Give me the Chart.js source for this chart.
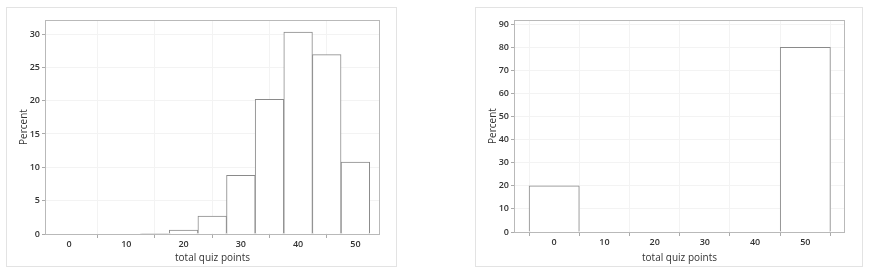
<!DOCTYPE html>
<html>
<head>
<meta charset="utf-8">
<script src="https://cdn.jsdelivr.net/npm/chart.js@4.4.0/dist/chart.umd.min.js"></script>
<style>
    body { margin: 0; background: #fff; width: 873px; height: 274px; position: relative; overflow: hidden; }
    .panel { position: absolute; top: 7px; height: 260px; border: 1px solid #e3e3e3; box-sizing: border-box; background: #fff; }
    #panel-left { left: 6px; width: 391px; }
    #panel-right { left: 475px; width: 388px; }
</style>
</head>
<body>
<div class="panel" id="panel-left"><canvas id="chart-left"></canvas></div>
<div class="panel" id="panel-right"><canvas id="chart-right"></canvas></div>
<script>
// left histogram: bin midpoints (width 5) and percent
const leftBins = [0, 5, 10, 15, 20, 25, 30, 35, 40, 45, 50];
const leftPercent = [0, 0, 0, 0.1, 0.6, 2.7, 8.8, 20.2, 30.3, 26.9, 10.8];

// right histogram: bin midpoints (width 10) and percent
const rightBins = [0, 10, 20, 30, 40, 50];
const rightPercent = [20, 0, 0, 0, 0, 80];

const xTitle = 'total quiz points';
const yTitle = 'Percent';

// draws the grey box round the plot area
const framePlugin = {
    id: 'frame',
    afterDatasetsDraw(chart) {
        const { ctx, chartArea: a } = chart;
        ctx.save();
        ctx.strokeStyle = '#b9b9b9';
        ctx.lineWidth = 1;
        ctx.strokeRect(a.left + 0.5, a.top + 0.5, a.right - a.left - 1, a.bottom - a.top);
        ctx.restore();
    }
};

function makeHistogram(canvasId, bins, values, opts) {
    const ctx = document.getElementById(canvasId).getContext('2d');
    return new Chart(ctx, {
        type: 'bar',
        data: {
            datasets: [{
                data: bins.map((b, i) => ({ x: b, y: values[i] })),
                backgroundColor: '#ffffff',
                borderColor: '#8a8a8a',
                borderWidth: 1,
                borderSkipped: 'start',
                barPercentage: 1,
                categoryPercentage: 1
            }]
        },
        options: {
            responsive: true,
            maintainAspectRatio: false,
            animation: false,
            layout: { padding: { top: 12, right: opts.padRight, bottom: 2, left: 11 } },
            plugins: { legend: { display: false }, tooltip: { enabled: false } },
            scales: {
                x: {
                    type: 'linear',
                    min: opts.xMin,
                    max: opts.xMax,
                    offset: false,
                    afterFit: s => { s.height = opts.xHeight; },
                    ticks: {
                        stepSize: opts.xStep,
                        includeBounds: false,
                        color: '#333',
                        padding: 1,
                        maxRotation: 0,
                        font: { family: 'Open Sans', size: 9, weight: '600' }
                    },
                    grid: { color: '#f3f3f3', tickColor: '#aaa', tickLength: 4 },
                    border: { display: false },
                    title: {
                        display: true,
                        text: xTitle,
                        color: '#333',
                        padding: { top: 0, bottom: 0 },
                        font: { family: 'Open Sans', size: 10 }
                    }
                },
                y: {
                    min: 0,
                    max: opts.yMax,
                    afterFit: s => { s.width = 27; },
                    ticks: {
                        stepSize: opts.yStep,
                        includeBounds: false,
                        color: '#333',
                        padding: 2,
                        font: { family: 'Open Sans', size: 9, weight: '600' }
                    },
                    grid: { color: '#f3f3f3', tickColor: '#aaa', tickLength: 3 },
                    border: { display: false },
                    title: {
                        display: true,
                        text: yTitle,
                        color: '#333',
                        padding: 0,
                        font: { family: 'Open Sans', size: 10 }
                    }
                }
            }
        },
        plugins: [framePlugin]
    });
}

makeHistogram('chart-left', leftBins, leftPercent, {
    xMin: -4.2, xMax: 54.3, xStep: 10, yMax: 32.1, yStep: 5, padRight: 16, xHeight: 30
});
makeHistogram('chart-right', rightBins, rightPercent, {
    xMin: -8, xMax: 57.9, xStep: 10, yMax: 91.8, yStep: 10, padRight: 17, xHeight: 32
});
</script>
</body>
</html>
